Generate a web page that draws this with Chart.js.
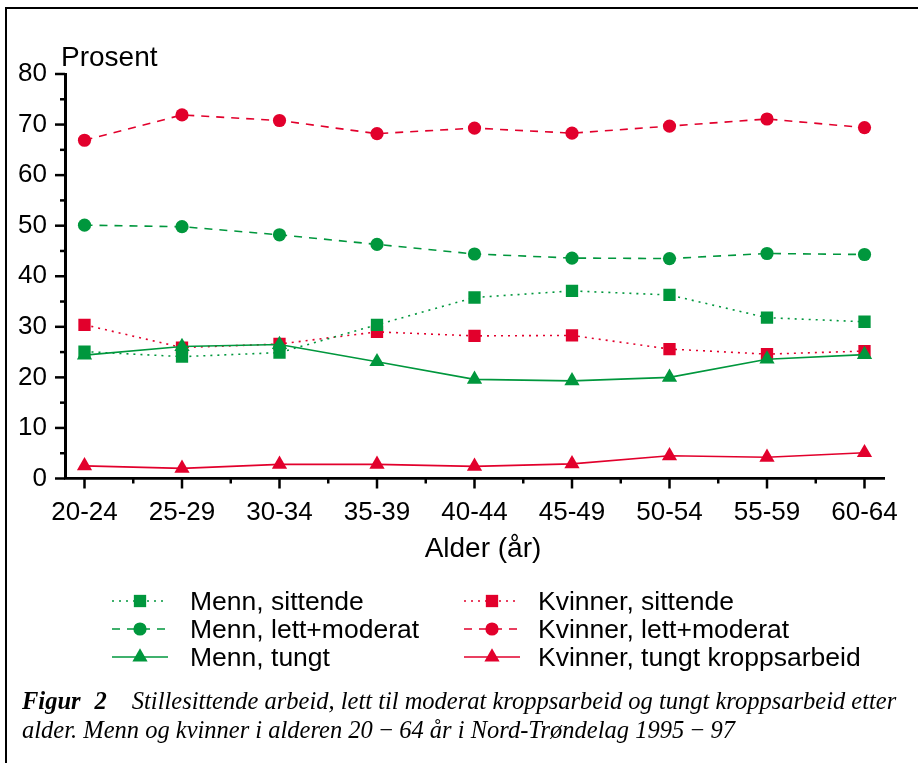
<!DOCTYPE html>
<html>
<head>
<meta charset="utf-8">
<script src="https://cdn.jsdelivr.net/npm/chart.js@4.4.1/dist/chart.umd.min.js"></script>
<style>
  html, body { margin:0; padding:0; background:#fff; }
  body { width:918px; height:763px; position:relative; overflow:hidden; font-family:"Liberation Sans", Arial, sans-serif; }
  #frame { position:absolute; left:5px; top:7px; width:1000px; height:1000px; border-left:2px solid #000; border-top:2px solid #000; }
  #wrap { position:absolute; left:0; top:0; width:918px; height:560px; }
  .lbl { position:absolute; color:#000; white-space:nowrap; line-height:1; }
  #ytitle { left:61px; top:43px; font-size:28px; }
  #xtitle { left:483px; top:534px; font-size:28px; transform:translateX(-50%); }
  #legend { position:absolute; left:0; top:0; width:918px; height:763px; pointer-events:none; }
  .item { position:absolute; display:flex; align-items:center; height:28px; font-size:26.5px; line-height:1; white-space:nowrap; }
  #caption { position:absolute; left:22px; top:686px; font-family:"Liberation Serif","Times New Roman",serif; font-style:italic; font-size:24.5px; line-height:29px; color:#000; white-space:nowrap; }
  #caption b { font-weight:bold; }
  .gap1 { display:inline-block; width:14px; }
  .gap2 { display:inline-block; width:25px; }
</style>
</head>
<body>
<div id="frame"></div>
<div id="wrap"><canvas id="c" width="918" height="560"></canvas></div>
<div class="lbl" id="ytitle">Prosent</div>
<div class="lbl" id="xtitle">Alder (år)</div>
<div id="legend"></div>
<div id="caption"><b>Figur<span class="gap1"></span>2</b><span class="gap2"></span>Stillesittende arbeid, lett til moderat kroppsarbeid og tungt kroppsarbeid etter<br>alder. Menn og kvinner i alderen 20&#8201;&#8722;&#8201;64 år i Nord-Trøndelag 1995&#8201;&#8722;&#8201;97</div>
<script>
// ---- data ----
const categories = ['20-24','25-29','30-34','35-39','40-44','45-49','50-54','55-59','60-64'];
const mennSittende = [25.1, 24.1, 24.9, 30.4, 35.8, 37.1, 36.3, 31.8, 31.0];
const mennLett     = [50.1, 49.8, 48.2, 46.3, 44.4, 43.6, 43.5, 44.5, 44.3];
const mennTungt    = [24.4, 26.1, 26.5, 23.1, 19.6, 19.3, 20.0, 23.6, 24.5];
const kvSittende   = [30.4, 25.9, 26.6, 29.0, 28.2, 28.3, 25.6, 24.6, 25.2];
const kvLett       = [66.9, 71.9, 70.8, 68.2, 69.3, 68.3, 69.7, 71.1, 69.4];
const kvTungt      = [2.5, 2.0, 2.8, 2.8, 2.4, 2.9, 4.5, 4.2, 5.1];
const yTickValues  = [0, 10, 20, 30, 40, 50, 60, 70, 80];
const seriesNames  = ['Menn, sittende','Menn, lett+moderat','Menn, tungt','Kvinner, sittende','Kvinner, lett+moderat','Kvinner, tungt kroppsarbeid'];

const GREEN = '#00973d';
const RED = '#e2002c';

function pts(arr){ return arr.map((v,i)=>({x:i, y:v})); }

const styles = [
  {color:GREEN, dash:[2,5], point:'rect', r:8.7},
  {color:GREEN, dash:[8,7], point:'circle', r:6.6},
  {color:GREEN, dash:[], point:'triangle', r:8.8},
  {color:RED, dash:[2,5], point:'rect', r:8.7},
  {color:RED, dash:[8,7], point:'circle', r:6.6},
  {color:RED, dash:[], point:'triangle', r:8.8}
];
const seriesData = [mennSittende, mennLett, mennTungt, kvSittende, kvLett, kvTungt];

const datasets = seriesData.map((d,i)=>({
  label: seriesNames[i],
  data: pts(d),
  borderColor: styles[i].color,
  backgroundColor: styles[i].color,
  borderWidth: 1.6,
  borderDash: styles[i].dash,
  pointStyle: styles[i].point,
  pointRadius: styles[i].r,
  pointHoverRadius: styles[i].r,
  pointBorderWidth: 0,
  pointBackgroundColor: styles[i].color,
  tension: 0
}));

const tickPlugin = {
  id:'tickPlugin',
  afterDraw(chart){
    const ctx = chart.ctx, xs = chart.scales.x, ys = chart.scales.y;
    ctx.save();
    ctx.strokeStyle = '#000';
    ctx.lineWidth = 2.5;
    const left = ys.right;
    for (let v = 0; v <= 80; v += 5){
      const y = ys.getPixelForValue(v);
      const len = (v % 10 === 0) ? 10 : 5;
      ctx.beginPath(); ctx.moveTo(left - len, y); ctx.lineTo(left, y); ctx.stroke();
    }
    const bottom = xs.top;
    for (let v = 0; v <= categories.length - 1; v += 0.5){
      const x = xs.getPixelForValue(v);
      const len = (v % 1 === 0) ? 10 : 5;
      ctx.beginPath(); ctx.moveTo(x, bottom); ctx.lineTo(x, bottom + len); ctx.stroke();
    }
    ctx.restore();
  }
};

new Chart(document.getElementById('c'), {
  type:'line',
  data:{ datasets },
  options:{
    responsive:false,
    animation:false,
    devicePixelRatio:1,
    layout:{ padding:{ top:74, right:34, left:0, bottom:0 } },
    plugins:{ legend:{display:false}, tooltip:{enabled:false} },
    scales:{
      x:{
        type:'linear', min:-0.2, max:8.2,
        afterFit(s){ s.height = 81.5; },
        afterBuildTicks(s){ s.ticks = categories.map((c,i)=>({value:i})); },
        grid:{ display:false },
        border:{ display:true, color:'#000', width:2.7 },
        ticks:{ autoSkip:false, maxRotation:0, padding:11, color:'#000',
          font:{ family:'Liberation Sans', size:26 },
          callback:(v)=>categories[v] }
      },
      y:{
        type:'linear', min:0, max:80,
        afterFit(s){ s.width = 65; },
        afterBuildTicks(s){ s.ticks = yTickValues.map(v=>({value:v})); },
        grid:{ display:false },
        border:{ display:true, color:'#000', width:3 },
        ticks:{ padding:10, color:'#000', font:{ family:'Liberation Sans', size:26 } }
      }
    }
  },
  plugins:[tickPlugin]
});

// ---- HTML legend built from dataset styles ----
function symbol(st){
  const w = 56, h = 20, cy = 10, cx = 28;
  let line = `<line x1="0" y1="${cy}" x2="${w}" y2="${cy}" stroke="${st.color}" stroke-width="1.6" ${st.dash.length?`stroke-dasharray="${st.dash.join(',')}"`:''}/>`;
  let m;
  if (st.point === 'rect') { const s = st.r*Math.SQRT1_2; m = `<rect x="${cx-s}" y="${cy-s}" width="${2*s}" height="${2*s}" fill="${st.color}"/>`; }
  else if (st.point === 'circle') { m = `<circle cx="${cx}" cy="${cy}" r="${st.r}" fill="${st.color}"/>`; }
  else { const r = st.r; const hw = r*Math.sin(2*Math.PI/3); m = `<polygon points="${cx},${cy-r} ${cx+hw},${cy+r/2} ${cx-hw},${cy+r/2}" fill="${st.color}"/>`; }
  return `<svg width="${w}" height="${h}" viewBox="0 0 ${w} ${h}">${line}${m}</svg>`;
}
const legend = document.getElementById('legend');
const colX = [112, 464];
const colGap = [22, 18];
const rowY = [587, 615, 643];
seriesNames.forEach((name,i)=>{
  const col = Math.floor(i/3), row = i%3;
  const div = document.createElement('div');
  div.className = 'item';
  div.style.left = colX[col] + 'px';
  div.style.top = rowY[row] + 'px';
  div.innerHTML = symbol(styles[i]).replace('<svg ', `<svg style="margin-right:${colGap[col]}px" `) + `<span>${name}</span>`;
  legend.appendChild(div);
});
</script>
</body>
</html>
